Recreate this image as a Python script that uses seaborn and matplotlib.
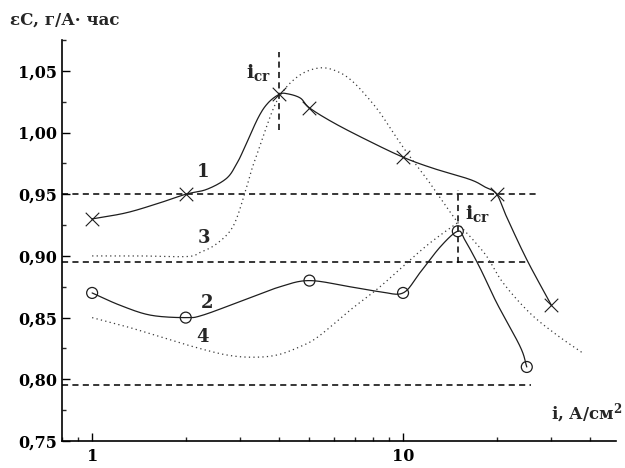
import numpy as np
import matplotlib
matplotlib.use("Agg")
import matplotlib.pyplot as plt
import seaborn as sns
from matplotlib.ticker import LogLocator, FixedLocator, MultipleLocator, NullFormatter

# ---------------- data ----------------
# curve 1 (x markers)
c1_x = [1, 2, 4, 5, 10, 20, 30]
c1_y = [0.930, 0.950, 1.031, 1.020, 0.980, 0.950, 0.860]
# traced path of curve 1
c1_path_x = [1, 1.29, 1.65, 2, 2.34, 2.71, 2.92, 3.07, 3.42, 3.68, 4, 4.23, 4.67, 5,
             5.97, 7.64, 10, 12.5, 16.4, 18.3, 20, 21.5, 25.0, 30]
c1_path_y = [0.930, 0.935, 0.943, 0.950, 0.954, 0.963, 0.975, 0.986, 1.012, 1.024, 1.031,
             1.0315, 1.028, 1.020, 1.008, 0.994, 0.980, 0.971, 0.962, 0.956, 0.950,
             0.932, 0.897, 0.860]

# curve 2 (circle markers)
c2_x = [1, 2, 5, 10, 15, 25]
c2_y = [0.870, 0.850, 0.880, 0.870, 0.920, 0.810]
c2_path_x = [1, 1.23, 1.54, 2, 2.27, 3.06, 4.02, 5, 6.75, 8.43, 10, 11.3, 13.2, 15,
             15.8, 17.7, 20.0, 23.8, 25]
c2_path_y = [0.870, 0.860, 0.852, 0.850, 0.852, 0.864, 0.875, 0.880, 0.875, 0.871, 0.870,
             0.886, 0.9076, 0.920, 0.913, 0.890, 0.862, 0.8265, 0.810]

# curve 3 (dotted)
c3_x = [1, 1.43, 2.02, 2.22, 2.52, 2.84, 3.10, 3.26, 3.43, 3.63, 3.82, 4.0, 4.33, 4.84,
        5.53, 6.27, 6.91, 7.66, 8.43, 9.29, 10.3, 11.8, 12.2, 15, 16.8, 18.6, 21.0,
        25.6, 31.2, 38.0]
c3_y = [0.900, 0.900, 0.8995, 0.9027, 0.910, 0.924, 0.951, 0.970, 0.986, 1.004, 1.019,
        1.029, 1.040, 1.049, 1.0525, 1.0485, 1.041, 1.029, 1.016, 1.000, 0.9836, 0.964,
        0.959, 0.927, 0.913, 0.8995, 0.878, 0.8536, 0.836, 0.821]

# curve 4 (dotted)
c4_x = [1, 1.29, 1.65, 2.11, 2.71, 3.29, 3.93, 4.67, 5.34, 6.75, 8.43, 11.3, 12.96, 15]
c4_y = [0.850, 0.8427, 0.8346, 0.8265, 0.8197, 0.8179, 0.8197, 0.8265, 0.8346, 0.856,
        0.875, 0.9035, 0.9155, 0.927]

# reference lines
h_levels = [0.950, 0.895, 0.795]
h_ends = [27.0, 25.2, 25.8]
v_pos = [4, 15]
v_low = [1.002, 0.8944]
v_high = [1.065, 0.9536]

# ticks
y_ticks = [0.75, 0.80, 0.85, 0.90, 0.95, 1.00, 1.05]
y_tick_labels = ["0,75", "0,80", "0,85", "0,90", "0,95", "1,00", "1,05"]
x_ticks = [1, 10]
x_tick_labels = ["1", "10"]

# curve labels
curve_labels = ["1", "3", "2", "4"]
curve_label_x = [2.27, 2.29, 2.34, 2.27]
curve_label_y = [0.968, 0.9146, 0.862, 0.834]


def smooth(xs, ys, n=20):
    """Catmull-Rom path through traced points (in log-x space) for drawing."""
    P = np.column_stack([np.log10(xs), np.asarray(ys, float)])
    P2 = np.vstack([2 * P[0] - P[1], P, 2 * P[-1] - P[-2]])
    out = []
    t = np.linspace(0, 1, n, endpoint=False)[:, None]
    for i in range(1, len(P2) - 2):
        p0, p1, p2, p3 = P2[i - 1], P2[i], P2[i + 1], P2[i + 2]
        pts = 0.5 * ((2 * p1) + (-p0 + p2) * t + (2 * p0 - 5 * p1 + 4 * p2 - p3) * t ** 2
                     + (-p0 + 3 * p1 - 3 * p2 + p3) * t ** 3)
        out.append(pts)
    out.append(P[-1:])
    r = np.vstack(out)
    return 10 ** r[:, 0], r[:, 1]


sns.set_style("ticks")
plt.rcParams["font.family"] = ["DejaVu Serif"]
plt.rcParams["font.weight"] = "bold"
plt.rcParams["mathtext.fontset"] = "custom"
plt.rcParams["mathtext.rm"] = "DejaVu Serif:bold"
plt.rcParams["mathtext.it"] = "DejaVu Serif:bold"
plt.rcParams["mathtext.bf"] = "DejaVu Serif:bold"

fig = plt.figure(figsize=(6.25, 4.68), dpi=100)
ax = fig.add_axes([62 / 625, 1 - 441 / 468, (616 - 62) / 625, (441 - 40) / 468])
ax.set_xscale("log")

line_col = "#1e1e1e"
dot_col = "#3a3a3a"

# smooth solid curves
for px, py in [(c1_path_x, c1_path_y), (c2_path_x, c2_path_y)]:
    sx, sy = smooth(px, py)
    sns.lineplot(x=sx, y=sy, sort=False, estimator=None, ax=ax, color=line_col,
                 linewidth=0.9, zorder=3)

# dotted curves
for px, py in [(c3_x, c3_y), (c4_x, c4_y)]:
    sx, sy = smooth(px, py)
    sns.lineplot(x=sx, y=sy, sort=False, estimator=None, ax=ax, color=dot_col,
                 linewidth=0.9, linestyle=(0, (1, 2.6)), zorder=2)

# markers
sns.scatterplot(x=c1_x, y=c1_y, marker="x", s=95, color=line_col, linewidth=0.8,
                ax=ax, zorder=4)
sns.scatterplot(x=c2_x, y=c2_y, marker="o", s=62, color=line_col, facecolor="none",
                edgecolor=line_col, linewidth=0.9, ax=ax, zorder=4)

# dashed reference lines
for lvl, end in zip(h_levels, h_ends):
    ax.plot([0.8, end], [lvl, lvl], color="black", linewidth=1.1,
            linestyle=(0, (4, 2.8)), zorder=1)
for xv, lo, hi in zip(v_pos, v_low, v_high):
    ax.plot([xv, xv], [lo, hi], color="black", linewidth=1.1,
            linestyle=(0, (4, 2.8)), zorder=1)

# axes setup
ax.set_xlim(0.80, 48.4)
ax.set_ylim(0.75, 1.075)
ax.xaxis.set_major_locator(FixedLocator(x_ticks))
ax.set_xticklabels(x_tick_labels)
ax.xaxis.set_minor_locator(LogLocator(base=10, subs=np.arange(2, 10)))
ax.xaxis.set_minor_formatter(NullFormatter())
ax.yaxis.set_major_locator(FixedLocator(y_ticks))
ax.set_yticklabels(y_tick_labels)
ax.yaxis.set_minor_locator(MultipleLocator(0.025))
ax.tick_params(which="major", direction="in", length=6, width=1.0, labelsize=11.5,
               colors="black")
ax.tick_params(axis="x", which="major", pad=5)
ax.tick_params(axis="y", which="major", pad=3.5)
ax.tick_params(which="minor", direction="in", length=3, width=1.0)
for lab in ax.get_xticklabels() + ax.get_yticklabels():
    lab.set_fontweight("bold")
sns.despine(ax=ax)
for s in ["left", "bottom"]:
    ax.spines[s].set_linewidth(1.2)
    ax.spines[s].set_color("black")
ax.set_xlabel("")
ax.set_ylabel("")

# curve labels
for t, x, y in zip(curve_labels, curve_label_x, curve_label_y):
    ax.text(x, y, t, fontsize=13, fontweight="bold", ha="center", va="center")

ax.text(3.42, 1.049, r"$i_{cr}$", fontsize=14, ha="center", va="center")
ax.text(17.4, 0.934, r"$i_{cr}$", fontsize=14, ha="center", va="center")

# axis titles
fig.text(10 / 625, 1 - 20 / 468, "εC, г/А· час", fontsize=12, fontweight="bold",
         ha="left", va="center")
fig.text(622 / 625, 1 - 413 / 468, r"i, А/см$^{2}$", fontsize=12, fontweight="bold",
         ha="right", va="center")

fig.savefig("out.png", dpi=100)
